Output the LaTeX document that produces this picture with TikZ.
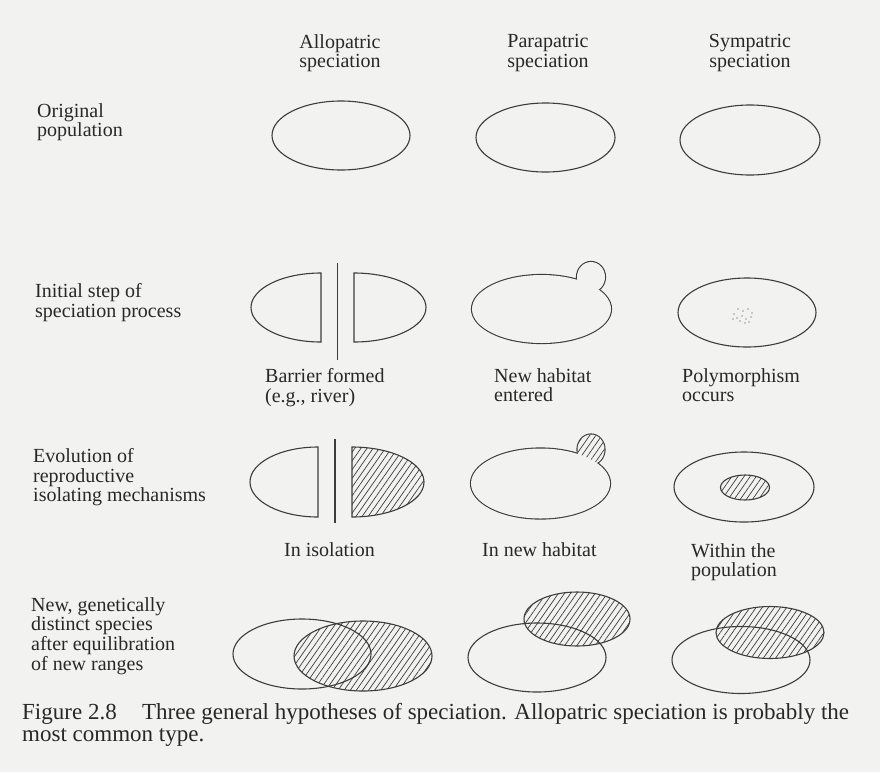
\documentclass[tikz,border=0pt]{standalone}
\usepackage{fontspec}
\setmainfont{Liberation Serif}
\usetikzlibrary{patterns.meta}
\definecolor{bgc}{RGB}{242,242,240}
\definecolor{ink}{RGB}{60,60,60}
\definecolor{txt}{RGB}{40,40,40}
\tikzset{
  outl/.style={draw=ink, line width=1.1pt},
  thick2/.style={draw=ink, line width=2.2pt},
  hatch/.style={pattern={Lines[angle=55,distance=5pt,line width=0.7pt]}, pattern color=ink},
  lbl/.style={text=txt, font=\fontsize{20}{19.8}\selectfont, inner sep=0pt, align=left, anchor=north west},
  hdr/.style={text=txt, font=\fontsize{20}{19.8}\selectfont, inner sep=0pt, align=center, anchor=north},
  captxt/.style={text=txt, font=\fontsize{23}{22.5}\selectfont, inner sep=0pt, align=left, anchor=north west},
}
\begin{document}
\begin{tikzpicture}[x=1pt,y=1pt]
\fill[bgc] (0,0) rectangle (880,-772);
\useasboundingbox (0,0) rectangle (880,-772);

% headers
\node[hdr] (hA) at (340,-34) {Allopatric\\speciation};
\node[hdr] (hP) at (548,-34) {Parapatric\\speciation};
\node[hdr] (hS) at (750,-34) {Sympatric\\speciation};

% row labels
\node[lbl] (r1) at (37,-103) {Original\\population};
\node[lbl] (r2) at (35,-283) {Initial step of\\speciation process};
\node[lbl] (r3) at (33,-448) {Evolution of\\reproductive\\isolating mechanisms};
\node[lbl] (r4) at (31,-597) {New, genetically\\distinct species\\after equilibration\\of new ranges};

% sub labels
\node[lbl] (s21) at (265,-368) {Barrier formed\\(e.g., river)};
\node[lbl] (s22) at (494,-368) {New habitat\\entered};
\node[lbl] (s23) at (682,-368) {Polymorphism\\occurs};
\node[lbl] (s31) at (284,-542) {In isolation};
\node[lbl] (s32) at (482,-542) {In new habitat};
\node[lbl] (s33) at (691,-543) {Within the\\population};

% caption
\node[captxt] (capt) at (22,-703) {Figure 2.8\hspace{1.1em}Three general hypotheses of speciation. Allopatric speciation is probably the\\most common type.};

% ---------- row 1
\draw[outl] (341,-135.5) ellipse[x radius=69pt, y radius=34.5pt];
\draw[outl] (545.5,-137.5) ellipse[x radius=69.5pt, y radius=34.5pt];
\draw[outl] (750,-140) ellipse[x radius=70pt, y radius=35pt];

% ---------- row 2
\draw[outl] (321,-273) arc[start angle=90, end angle=270, x radius=70pt, y radius=34.5pt] -- cycle;
\draw[outl] (354,-273) arc[start angle=90, end angle=-90, x radius=72pt, y radius=34.5pt] -- cycle;
\draw[outl] (337.5,-263) -- (337.5,-360);
% parapatric: ellipse with small bud
\draw[thick2] (541.5,-309) ellipse[x radius=69.5pt, y radius=34pt];
\draw[thick2] (591,-277) ellipse[x radius=14pt, y radius=15pt];
\fill[bgc] (541.5,-309) ellipse[x radius=69.5pt, y radius=34pt];
\fill[bgc] (591,-277) ellipse[x radius=14pt, y radius=15pt];
% sympatric
\draw[outl] (747,-312.5) ellipse[x radius=69pt, y radius=34.5pt];
\foreach \p in {(734,-314),(738,-309),(743,-311),(748,-309),(752,-313),(737,-318),(742,-316),(746,-319),(751,-317),(740,-321),(745,-323),(733,-319),(749,-322)}
  \fill[ink] \p circle (0.7pt);

% ---------- row 3
\draw[outl] (318,-447) arc[start angle=90, end angle=270, x radius=68pt, y radius=35pt] -- cycle;
\draw[outl, hatch] (352,-447) arc[start angle=90, end angle=-90, x radius=72pt, y radius=35pt] -- cycle;
\draw[outl] (335,-439) -- (335,-523);
% parapatric with hatched bud
\draw[thick2] (540.5,-483.5) ellipse[x radius=69.5pt, y radius=35pt];
\draw[thick2] (591,-449.5) ellipse[x radius=13.5pt, y radius=15pt];
\fill[bgc] (591,-449.5) ellipse[x radius=13.5pt, y radius=15pt];
\fill[hatch] (591,-449.5) ellipse[x radius=13.5pt, y radius=15pt];
\fill[bgc] (540.5,-483.5) ellipse[x radius=69.5pt, y radius=35pt];
% sympatric
\draw[outl] (744,-487) ellipse[x radius=70pt, y radius=35pt];
\draw[outl, hatch] (745,-487.5) ellipse[x radius=24.5pt, y radius=12.5pt];

% ---------- row 4
\draw[outl, hatch] (363,-656) ellipse[x radius=69pt, y radius=35pt];
\draw[outl] (302,-654) ellipse[x radius=69pt, y radius=35pt];
\draw[outl, hatch] (577,-619) ellipse[x radius=53pt, y radius=27pt];
\draw[outl] (537,-657.5) ellipse[x radius=69pt, y radius=34.5pt];
\draw[outl, hatch] (770,-632.5) ellipse[x radius=54pt, y radius=26pt];
\draw[outl] (741,-660) ellipse[x radius=69pt, y radius=33.5pt];
\end{tikzpicture}
\end{document}
